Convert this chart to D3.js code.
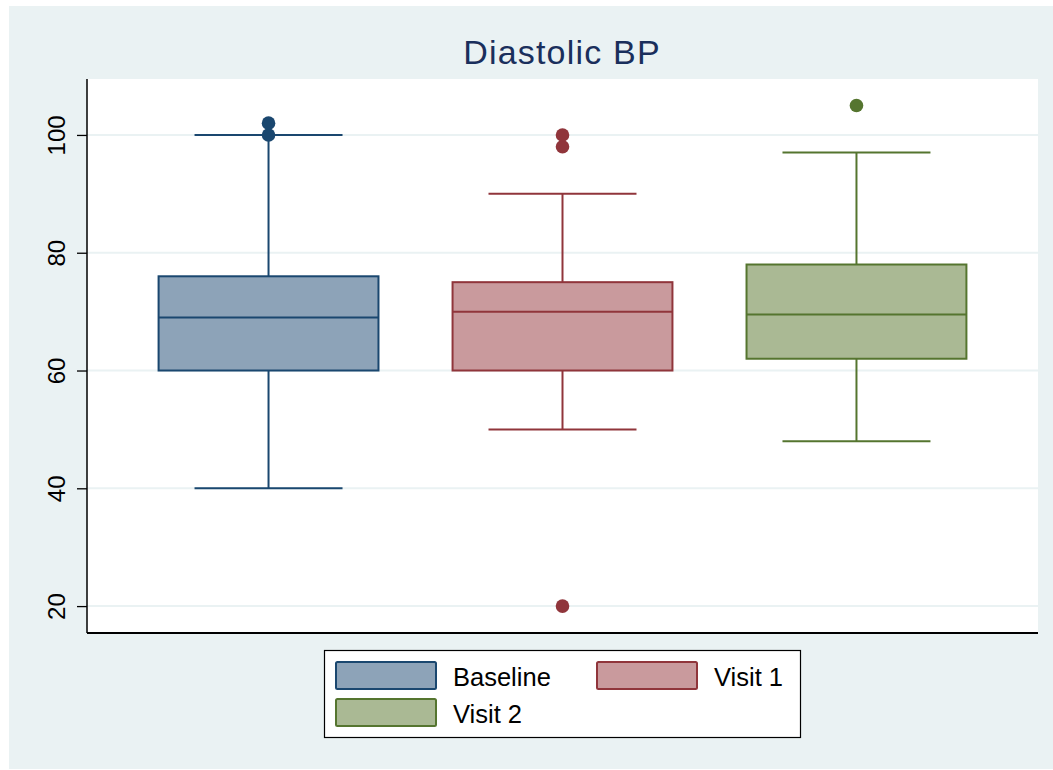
<!DOCTYPE html>
<html>
<head>
<meta charset="utf-8">
<script src="https://cdn.jsdelivr.net/npm/d3@7"></script>
<style>
  html, body { margin: 0; padding: 0; background: #ffffff; }
  svg { display: block; font-family: "Liberation Sans", Arial, Helvetica, sans-serif; }
</style>
</head>
<body>
<svg id="chart" width="1053" height="770"></svg>
<script>
// Box-plot summaries for diastolic blood pressure at each visit
const groups = ["Baseline", "Visit 1", "Visit 2"];
const lowerWhisker = [40, 50, 48];
const q1 = [60, 60, 62];
const median = [69, 70, 69.5];
const q3 = [76, 75, 78];
const upperWhisker = [100, 90, 97];
const outliers = [[100, 102], [98, 100, 20], [105]];
const yTicks = [20, 40, 60, 80, 100];
const titleText = "Diastolic BP";

const strokeColors = ["#1a476f", "#90353b", "#55752f"];
const fillColors = ["#8da3b8", "#c99a9d", "#aab994"];

const svg = d3.select("#chart");
const W = 1053, H = 770;
const plot = { left: 87, right: 1038, top: 79, bottom: 632 };

// outer graph region
svg.append("rect").attr("x", 9).attr("y", 6).attr("width", W - 9).attr("height", H - 7)
  .attr("fill", "#eaf2f3");
svg.append("rect").attr("x", plot.left).attr("y", plot.top)
  .attr("width", plot.right - plot.left).attr("height", plot.bottom - plot.top)
  .attr("fill", "#ffffff");

const x = d3.scaleBand().domain(groups).range([plot.left, plot.right])
  .paddingInner(0.252).paddingOuter(0.2435);
const y = d3.scaleLinear().domain([15.6, 109.5]).range([plot.bottom, plot.top]);

// gridlines
svg.append("g").selectAll("line").data(yTicks).join("line")
  .attr("x1", plot.left).attr("x2", plot.right)
  .attr("y1", d => y(d)).attr("y2", d => y(d))
  .attr("stroke", "#eaf2f3").attr("stroke-width", 2);

// y axis
const yAxis = d3.axisLeft(y).tickValues(yTicks).tickSize(10).tickPadding(8);
const gy = svg.append("g").attr("transform", `translate(${plot.left},0)`).call(yAxis);
gy.select(".domain").remove();
gy.selectAll(".tick line").attr("stroke", "#000").attr("stroke-width", 1.3);
gy.selectAll(".tick text")
  .attr("font-size", 24).attr("fill", "#000")
  .attr("text-anchor", "middle")
  .attr("x", null).attr("dy", null)
  .attr("transform", "translate(-30,0) rotate(-90)")
  .attr("dominant-baseline", "auto")
  .attr("y", 8);
svg.append("line").attr("x1", plot.left).attr("x2", plot.left)
  .attr("y1", plot.top).attr("y2", plot.bottom + 1)
  .attr("stroke", "#000").attr("stroke-width", 1.5);
svg.append("line").attr("x1", plot.left).attr("x2", plot.right)
  .attr("y1", plot.bottom + 1).attr("y2", plot.bottom + 1)
  .attr("stroke", "#000").attr("stroke-width", 1.8);

// boxes
const rows = groups.map((g, i) => ({
  g, i, lo: lowerWhisker[i], q1: q1[i], med: median[i], q3: q3[i], hi: upperWhisker[i], out: outliers[i]
}));
const gb = svg.append("g").selectAll("g").data(rows).join("g");
const bw = x.bandwidth();
const capW = bw * 0.673;

gb.append("line") // upper whisker
  .attr("x1", d => x(d.g) + bw / 2).attr("x2", d => x(d.g) + bw / 2)
  .attr("y1", d => y(d.q3)).attr("y2", d => y(d.hi))
  .attr("stroke", d => strokeColors[d.i]).attr("stroke-width", 2);
gb.append("line") // lower whisker
  .attr("x1", d => x(d.g) + bw / 2).attr("x2", d => x(d.g) + bw / 2)
  .attr("y1", d => y(d.q1)).attr("y2", d => y(d.lo))
  .attr("stroke", d => strokeColors[d.i]).attr("stroke-width", 2);
gb.append("line") // upper cap
  .attr("x1", d => x(d.g) + bw / 2 - capW / 2).attr("x2", d => x(d.g) + bw / 2 + capW / 2)
  .attr("y1", d => y(d.hi)).attr("y2", d => y(d.hi))
  .attr("stroke", d => strokeColors[d.i]).attr("stroke-width", 2);
gb.append("line") // lower cap
  .attr("x1", d => x(d.g) + bw / 2 - capW / 2).attr("x2", d => x(d.g) + bw / 2 + capW / 2)
  .attr("y1", d => y(d.lo)).attr("y2", d => y(d.lo))
  .attr("stroke", d => strokeColors[d.i]).attr("stroke-width", 2);
gb.append("rect")
  .attr("x", d => x(d.g)).attr("width", bw)
  .attr("y", d => y(d.q3)).attr("height", d => y(d.q1) - y(d.q3))
  .attr("fill", d => fillColors[d.i])
  .attr("stroke", d => strokeColors[d.i]).attr("stroke-width", 2);
gb.append("line") // median
  .attr("x1", d => x(d.g)).attr("x2", d => x(d.g) + bw)
  .attr("y1", d => y(d.med)).attr("y2", d => y(d.med))
  .attr("stroke", d => strokeColors[d.i]).attr("stroke-width", 2);
gb.each(function (d) {
  d3.select(this).selectAll("circle").data(d.out).join("circle")
    .attr("cx", x(d.g) + bw / 2).attr("cy", v => y(v)).attr("r", 6.8)
    .attr("fill", strokeColors[d.i]);
});

// title
svg.append("text").attr("x", 562).attr("y", 64)
  .attr("text-anchor", "middle").attr("font-size", 34).attr("letter-spacing", 1.2)
  .attr("fill", "#1a2f5c").text(titleText);

// legend
const lg = svg.append("g");
lg.append("rect").attr("x", 324.5).attr("y", 650.5).attr("width", 476).attr("height", 87)
  .attr("fill", "#ffffff").attr("stroke", "#000").attr("stroke-width", 1.2);
const legendPos = [
  { sx: 336, sy: 662, tx: 453 },
  { sx: 597, sy: 662, tx: 714 },
  { sx: 336, sy: 699, tx: 453 }
];
groups.forEach((g, i) => {
  const p = legendPos[i];
  lg.append("rect").attr("x", p.sx).attr("y", p.sy).attr("width", 100).attr("height", 27)
    .attr("rx", 1.5)
    .attr("fill", fillColors[i]).attr("stroke", strokeColors[i]).attr("stroke-width", 2);
  lg.append("text").attr("x", p.tx).attr("y", p.sy + 23.5)
    .attr("font-size", 25.5).attr("fill", "#000").text(g);
});
</script>
</body>
</html>
